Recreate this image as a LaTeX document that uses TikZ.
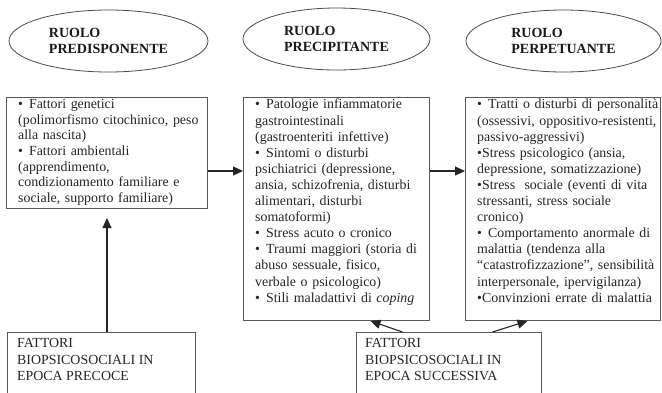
\documentclass[tikz,border=0pt]{standalone}
\usepackage{fontspec}
\setmainfont{Liberation Serif}
\usetikzlibrary{shapes.geometric,arrows.meta}

% bullet followed by a wider gap, as in the list entries
\newcommand{\blt}{•\hspace{6pt}}

\tikzset{
  role/.style={ellipse, draw=black!70, line width=0.8pt, inner sep=0pt, align=left,
    font=\fontsize{14}{16}\selectfont\bfseries, text=black!90},
  panel/.style={draw=black!65, line width=1pt, rectangle, inner sep=0pt, anchor=north west},
  body/.style={anchor=north west, inner sep=0pt, text width=#1, align=left,
    font=\fontsize{13.9}{15.6}\selectfont, text=black!85},
  body/.default=185pt,
  tallbody/.style={body, font=\fontsize{13.9}{16.1}\selectfont},
  lowbody/.style={anchor=north west, inner sep=0pt, align=left,
    font=\fontsize{13.9}{16.5}\selectfont, text=black!85},
  link/.style={draw=black!85, line width=1.1pt, -{Triangle[length=10pt,width=9pt]}},
}

\begin{document}
\begin{tikzpicture}[x=1pt,y=-1pt]
  \useasboundingbox (0,0) rectangle (662,392);
  \fill[white] (0,0) rectangle (662,392);
  \clip (0,0) rectangle (662,392);

  % role ellipses
  \node[role, minimum width=199pt, minimum height=62pt] (e1) at (108.5,41) {RUOLO\\PREDISPONENTE};
  \node[role, minimum width=187pt, minimum height=62pt] (e2) at (336.5,39) {RUOLO\\PRECIPITANTE};
  \node[role, minimum width=195pt, minimum height=62pt] (e3) at (563.5,41) {RUOLO\\PERPETUANTE};

  % factor panels
  \node[panel, minimum width=201pt, minimum height=111pt] (b1) at (6,97) {};
  \node[panel, minimum width=186pt, minimum height=223pt] (b2) at (243,97) {};
  \node[panel, minimum width=195pt, minimum height=223pt] (b3) at (465,97) {};
  \node[panel, minimum width=188pt, minimum height=70pt] (b4) at (7,332) {};
  \node[panel, minimum width=185pt, minimum height=70pt] (b5) at (356,332) {};

  \node[body] (t1) at ([xshift=12pt,yshift=-0.5pt]b1.north west) {\strut\blt Fattori genetici\\
    (polimorfismo citochinico, peso\\
    alla nascita)\\
    \blt Fattori ambientali\\
    (apprendimento,\\
    condizionamento familiare e\\
    sociale, supporto familiare)};

  \node[tallbody] (t2) at ([xshift=12pt,yshift=-0.5pt]b2.north west) {\strut\blt Patologie infiammatorie\\
    gastrointestinali\\
    (gastroenteriti infettive)\\
    \blt Sintomi o disturbi\\
    psichiatrici (depressione,\\
    ansia, schizofrenia, disturbi\\
    alimentari, disturbi\\
    somatoformi)\\
    \blt Stress acuto o cronico\\
    \blt Traumi maggiori (storia di\\
    abuso sessuale, fisico,\\
    verbale o psicologico)\\
    \blt Stili maladattivi di \textit{coping}};

  \node[tallbody] (t3) at ([xshift=12pt,yshift=-0.5pt]b3.north west) {\strut\blt Tratti o disturbi di personalità\\
    (ossessivi, oppositivo-resistenti,\\
    passivo-aggressivi)\\
    •Stress psicologico (ansia,\\
    depressione, somatizzazione)\\
    •Stress~ sociale (eventi di vita\\
    stressanti, stress sociale\\
    cronico)\\
    \blt Comportamento anormale di\\
    malattia (tendenza alla\\
    “catastrofizzazione”, sensibilità\\
    interpersonale, ipervigilanza)\\
    •Convinzioni errate di malattia};

  \node[lowbody] (t4) at ([xshift=10pt,yshift=-4pt]b4.north west) {\strut FATTORI\\
    BIOPSICOSOCIALI IN\\
    EPOCA PRECOCE};
  \node[lowbody] (t5) at ([xshift=9pt,yshift=-4pt]b5.north west) {\strut FATTORI\\
    BIOPSICOSOCIALI IN\\
    EPOCA SUCCESSIVA};

  % connectors
  \coordinate (p1) at ([yshift=-74pt]b1.north east);
  \coordinate (p2) at ([yshift=-74pt]b2.north east);
  \draw[link] (p1) -- (p1 -| b2.west);
  \draw[link] (p2) -- (p2 -| b3.west);
  \draw[link] (b1.south |- b4.north) -- ([yshift=-9pt]b1.south);
  \draw[link] ([xshift=-46.5pt]b5.north) -- ([xshift=34pt]b2.south);
  \draw[link] ([xshift=43.5pt]b5.north) -- ([xshift=-35.5pt]b3.south);
\end{tikzpicture}
\end{document}
